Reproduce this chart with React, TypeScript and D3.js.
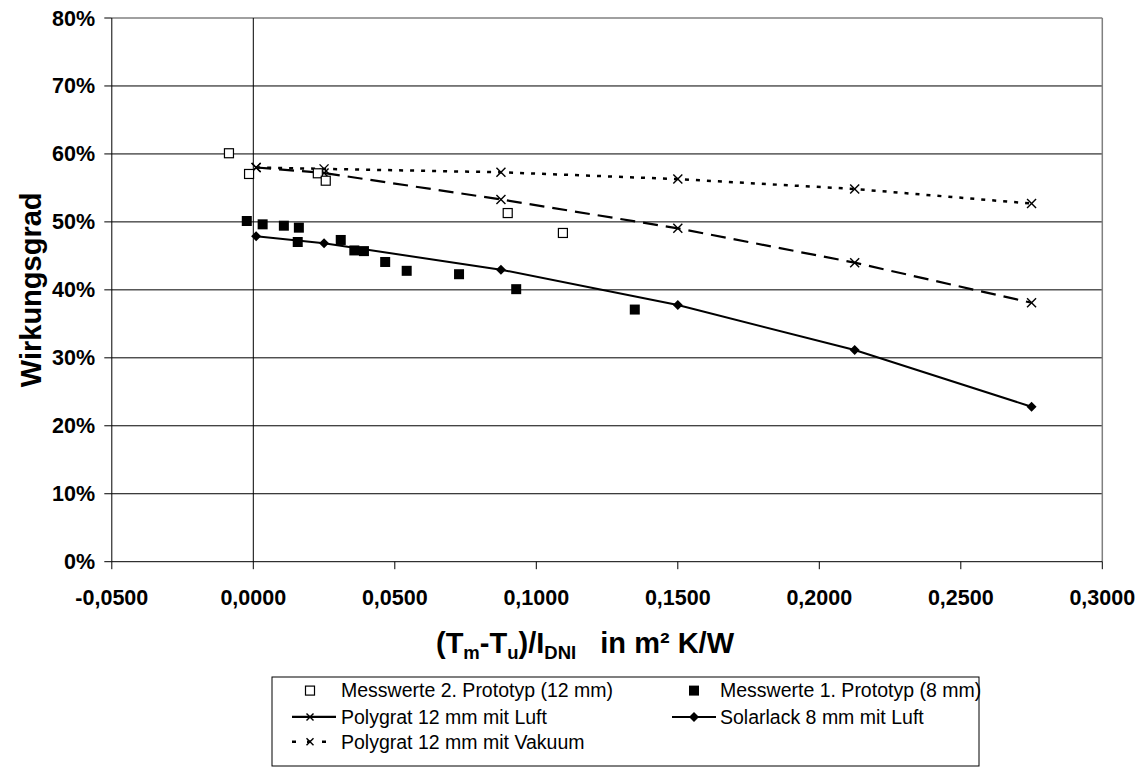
import React from "react";
import * as d3 from "d3";

// ---- data ----
const mess2X = [-0.0086, -0.0015, 0.0228, 0.0256, 0.0899, 0.1094];
const mess2Y = [60.1, 57.05, 57.15, 56.06, 51.3, 48.37];

const mess1X = [-0.0023, 0.0033, 0.0108, 0.0161, 0.0157, 0.0309, 0.0357, 0.0391, 0.0466, 0.0542, 0.0727, 0.0929, 0.1348];
const mess1Y = [50.13, 49.64, 49.44, 49.15, 47.04, 47.34, 45.8, 45.7, 44.1, 42.8, 42.3, 40.1, 37.1];

const modelX = [0.001, 0.025, 0.0875, 0.15, 0.2125, 0.275];
const luftY = [58.0, 57.2, 53.3, 49.05, 44.0, 38.1];
const vakuumY = [58.0, 57.8, 57.3, 56.3, 54.84, 52.7];
const solarY = [47.9, 46.85, 42.97, 37.77, 31.15, 22.8];

const xTicks = [-0.05, 0, 0.05, 0.1, 0.15, 0.2, 0.25, 0.3];
const yTicks = [0, 10, 20, 30, 40, 50, 60, 70, 80];

const legendLabels = [
  "Messwerte 2. Prototyp (12 mm)",
  "Messwerte 1. Prototyp (8 mm)",
  "Polygrat 12 mm mit Luft",
  "Solarlack 8 mm mit Luft",
  "Polygrat 12 mm mit Vakuum",
];

const W = 1141;
const H = 767;
const L = 111.8, R = 1102.3, T = 18, B = 561.7;
const FONT = "Arial, 'Liberation Sans', sans-serif";

const x = d3.scaleLinear().domain([-0.05, 0.3]).range([L, R]);
const y = d3.scaleLinear().domain([0, 80]).range([B, T]);

const fmtX = (v: number) => d3.format(".4f")(v).replace(".", ",").replace("−", "-");

function Cross({ cx, cy, s = 4.5 }: { cx: number; cy: number; s?: number }) {
  return (
    <g stroke="#000" strokeWidth={1.4}>
      <line x1={cx - s} y1={cy - s} x2={cx + s} y2={cy + s} />
      <line x1={cx - s} y1={cy + s} x2={cx + s} y2={cy - s} />
    </g>
  );
}
function Diamond({ cx, cy, s = 5 }: { cx: number; cy: number; s?: number }) {
  return <path d={`M${cx},${cy - s}L${cx + s},${cy}L${cx},${cy + s}L${cx - s},${cy}Z`} fill="#000" />;
}

export default function App() {
  const line = d3
    .line<[number, number]>()
    .x((d) => x(d[0]))
    .y((d) => y(d[1]));
  const luftPts = modelX.map((v, i) => [v, luftY[i]] as [number, number]);
  const vakPts = modelX.map((v, i) => [v, vakuumY[i]] as [number, number]);
  const solPts = modelX.map((v, i) => [v, solarY[i]] as [number, number]);

  const lgL = 272, lgR = 979, lgT = 677, lgB = 766;
  const rows = [690.6, 716.9, 741.8];
  const c1 = 310, c2 = 694, t1 = 341, t2 = 720;

  return (
    <svg width={W} height={H} style={{ position: "absolute", left: 0, top: 0, background: "#fff" }} fontFamily={FONT}>
      <rect x={0} y={0} width={W} height={H} fill="#fff" />
      {/* gridlines */}
      {yTicks.filter((t) => t > 0 && t < 80).map((t) => (
        <line key={t} x1={L} x2={R} y1={y(t)} y2={y(t)} stroke="#000" strokeWidth={1} />
      ))}
      {/* plot border top/right */}
      <line x1={L} x2={R} y1={T} y2={T} stroke="#808080" strokeWidth={1.5} />
      <line x1={R} x2={R} y1={T} y2={B} stroke="#808080" strokeWidth={1.5} />
      {/* vertical line at x=0 */}
      <line x1={x(0)} x2={x(0)} y1={T} y2={B} stroke="#000" strokeWidth={1} />
      {/* axes */}
      <line x1={L} x2={L} y1={T} y2={B} stroke="#000" strokeWidth={1} />
      <line x1={L} x2={R} y1={B} y2={B} stroke="#000" strokeWidth={1} />
      {yTicks.map((t) => (
        <g key={t}>
          <line x1={L - 7.5} x2={L} y1={y(t)} y2={y(t)} stroke="#000" strokeWidth={1} />
          <text x={95} y={y(t)} dy="0.35em" textAnchor="end" fontSize={21.5} fontWeight="bold">
            {t}%
          </text>
        </g>
      ))}
      {xTicks.map((t) => (
        <g key={t}>
          <line x1={x(t)} x2={x(t)} y1={B} y2={B + 7.5} stroke="#000" strokeWidth={1} />
          <text x={x(t)} y={597} dy="0.35em" textAnchor="middle" fontSize={21.5} fontWeight="bold">
            {fmtX(t)}
          </text>
        </g>
      ))}
      {/* axis titles */}
      <text
        transform={`translate(31,${(T + B) / 2}) rotate(-90)`}
        textAnchor="middle"
        dy="0.35em"
        fontSize={29}
        fontWeight="bold"
      >
        Wirkungsgrad
      </text>
      <text x={585} y={643} dy="0.35em" textAnchor="middle" fontSize={29} fontWeight="bold">
        <tspan>(T</tspan>
        <tspan fontSize={18.5} dy="6">m</tspan>
        <tspan dy="-6">-T</tspan>
        <tspan fontSize={18.5} dy="6">u</tspan>
        <tspan dy="-6">)/I</tspan>
        <tspan fontSize={18.5} dy="6">DNI</tspan>
        <tspan dy="-6" xmlSpace="preserve">{"\u00a0\u00a0\u00a0in m² K/W"}</tspan>
      </text>

      {/* series lines */}
      <path d={line(luftPts) || ""} fill="none" stroke="#000" strokeWidth={2.2} strokeDasharray="15,8" />
      <path d={line(vakPts) || ""} fill="none" stroke="#000" strokeWidth={2.5} strokeDasharray="4,7" />
      <path d={line(solPts) || ""} fill="none" stroke="#000" strokeWidth={2} />
      {luftPts.map((p, i) => <Cross key={"l" + i} cx={x(p[0])} cy={y(p[1])} />)}
      {vakPts.map((p, i) => <Cross key={"v" + i} cx={x(p[0])} cy={y(p[1])} />)}
      {solPts.map((p, i) => <Diamond key={"s" + i} cx={x(p[0])} cy={y(p[1])} />)}
      {mess1X.map((v, i) => (
        <rect key={"m1" + i} x={x(v) - 5} y={y(mess1Y[i]) - 5} width={10} height={10} fill="#000" />
      ))}
      {mess2X.map((v, i) => (
        <rect key={"m2" + i} x={x(v) - 4.5} y={y(mess2Y[i]) - 4.5} width={9} height={9} fill="#fff" stroke="#000" strokeWidth={1.2} />
      ))}

      {/* legend */}
      <rect x={lgL} y={lgT} width={lgR - lgL} height={lgB - lgT} fill="#fff" stroke="#000" strokeWidth={1} />
      <rect x={c1 - 4.5} y={rows[0] - 4.5} width={9} height={9} fill="#fff" stroke="#000" strokeWidth={1.2} />
      <rect x={c2 - 5} y={rows[0] - 5} width={10} height={10} fill="#000" />
      <line x1={292} x2={336} y1={rows[1]} y2={rows[1]} stroke="#000" strokeWidth={2.2} />
      <Cross cx={c1} cy={rows[1]} s={3.5} />
      <line x1={672} x2={716} y1={rows[1]} y2={rows[1]} stroke="#000" strokeWidth={2} />
      <Diamond cx={c2} cy={rows[1]} />
      <line x1={292} x2={336} y1={rows[2]} y2={rows[2]} stroke="#000" strokeWidth={2.5} strokeDasharray="4,11" />
      <Cross cx={c1} cy={rows[2]} s={3.5} />
      {[
        [t1, rows[0], legendLabels[0]],
        [t2, rows[0], legendLabels[1]],
        [t1, rows[1], legendLabels[2]],
        [t2, rows[1], legendLabels[3]],
        [t1, rows[2], legendLabels[4]],
      ].map(([tx, ty, s], i) => (
        <text key={i} x={tx as number} y={ty as number} dy="0.35em" fontSize={19.5}>
          {s as string}
        </text>
      ))}
    </svg>
  );
}
